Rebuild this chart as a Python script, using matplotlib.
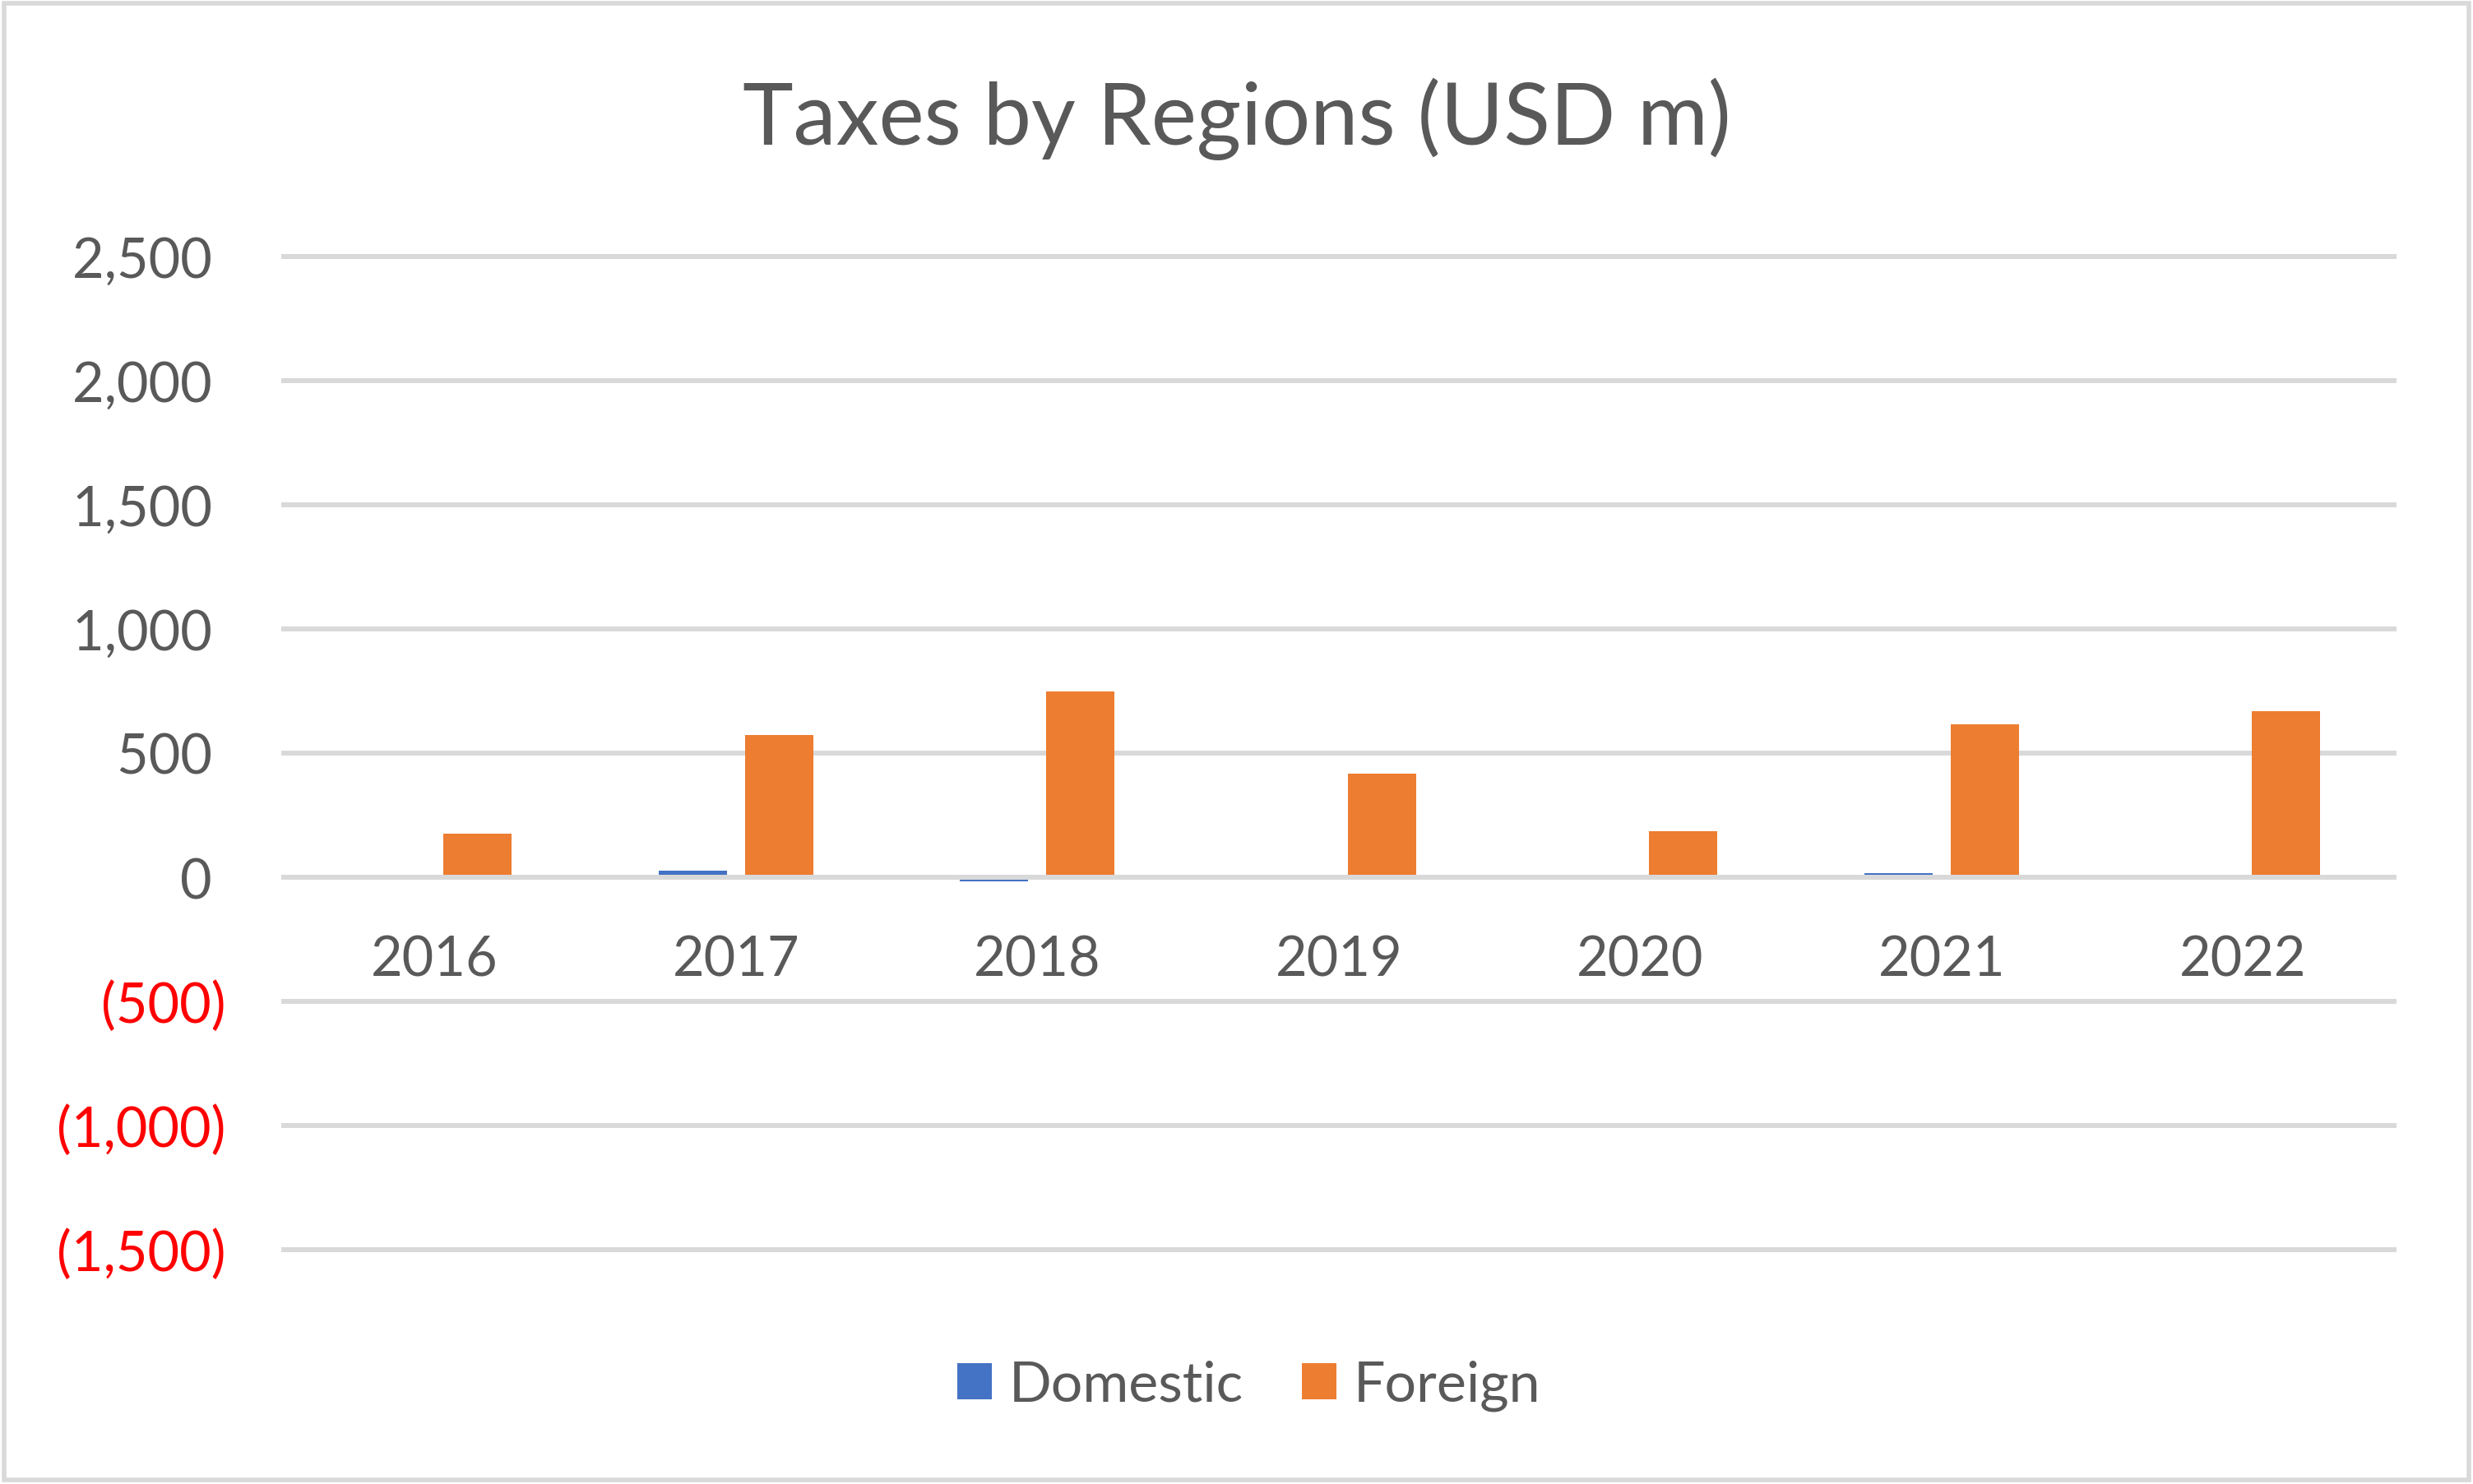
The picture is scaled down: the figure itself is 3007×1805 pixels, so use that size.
import matplotlib.pyplot as plt
import numpy as np
from matplotlib.patches import Rectangle

years = ['2016', '2017', '2018', '2019', '2020', '2021', '2022']
domestic = [0, 26, -17, 0, 0, 16, 0]
foreign = [175, 572, 748, 417, 185, 615, 668]
y_ticks = [-1500, -1000, -500, 0, 500, 1000, 1500, 2000, 2500]

BLUE = '#4472C4'
ORANGE = '#ED7D31'
GRID = '#D9D9D9'
TEXT = '#595959'

plt.rcParams['font.family'] = ['Lato', 'DejaVu Sans']

fig = plt.figure(figsize=(15.035, 9.03), dpi=200)
ax = fig.add_axes([0.1147, 0.1578, 0.968 - 0.1147, 0.8267 - 0.1578])

x = np.arange(len(years))
w = 0.226
off = 0.143
ax.bar(x - off, domestic, w, color=BLUE, label='Domestic')
ax.bar(x + off, foreign, w, color=ORANGE, label='Foreign')

ax.set_xlim(-0.5, len(years) - 0.5)
ax.set_ylim(-1500, 2500)
ax.set_yticks(y_ticks)
labels = []
for v in y_ticks:
    if v < 0:
        labels.append('({:,})'.format(-v))
    else:
        labels.append('{:,} '.format(v))
ax.set_yticklabels(labels)
for lab, v in zip(ax.get_yticklabels(), y_ticks):
    lab.set_color('#FF0000' if v < 0 else TEXT)

ax.set_xticks(x)
ax.set_xticklabels(years)
ax.tick_params(axis='both', length=0, labelsize=24)
ax.tick_params(axis='y', pad=25.3)
ax.tick_params(axis='x', pad=25, colors=TEXT)

ax.grid(axis='y', color=GRID, linewidth=2.16)
ax.set_axisbelow(True)
for line in ax.get_ygridlines():
    line.set_clip_on(False)

for s in ['top', 'right', 'left']:
    ax.spines[s].set_visible(False)
ax.spines['bottom'].set_position(('data', 0))
ax.spines['bottom'].set_color(GRID)
ax.spines['bottom'].set_linewidth(2.16)

fig.text(0.5, 0.92, 'Taxes by Regions (USD m)', ha='center', va='center',
         fontsize=37.6, color=TEXT)

leg = fig.legend(loc='center', bbox_to_anchor=(0.505, 1 - 1686 / 1806), ncol=2,
                 frameon=False, fontsize=24.5, handlelength=0.62, handleheight=0.62,
                 handletextpad=0.3, columnspacing=1.05)
for t in leg.get_texts():
    t.set_color(TEXT)

fig.patches.append(Rectangle((0.0015, 0.0025), 0.997, 0.995, transform=fig.transFigure,
                             fill=False, edgecolor=GRID, linewidth=2))

fig.savefig('out.png', dpi=200, facecolor='white')
